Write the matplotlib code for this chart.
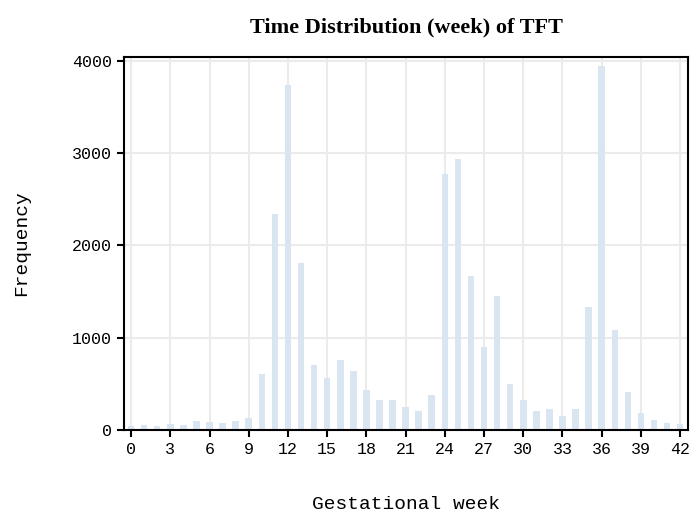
import matplotlib
matplotlib.use('agg')
import matplotlib.pyplot as plt
import numpy as np

weeks = list(range(43))
freq = [40, 50, 40, 60, 50, 100, 90, 80, 100, 130,
        610, 2340, 3740, 1810, 700, 560, 760, 640, 430, 320,
        330, 250, 210, 380, 2770, 2930, 1670, 900, 1450, 500,
        330, 210, 230, 150, 230, 1330, 3940, 1080, 410, 180,
        110, 80, 60]

fig = plt.figure(figsize=(7, 5.24), dpi=100)
ax = fig.add_axes([124 / 700, 1 - 430 / 524, 564 / 700, 373 / 524])
ax.grid(True, color='#ebebeb', linewidth=1.5, zorder=0)
ax.bar(weeks, freq, width=0.5, color='#dae5f2', zorder=2)
ax.set_xlim(-0.54, 42.6)
ax.set_ylim(0, 4040)
ax.set_xticks(range(0, 43, 3))
ax.set_yticks([0, 1000, 2000, 3000, 4000])
for s in ax.spines.values():
    s.set_linewidth(1.5)
ax.tick_params(width=1.5, length=5, labelsize=12)
for lab in ax.get_xticklabels() + ax.get_yticklabels():
    lab.set_family('Liberation Mono')
ax.set_xlabel('Gestational week', family='Liberation Mono', fontsize=14, labelpad=28)
ax.set_ylabel('Frequency', family='Liberation Mono', fontsize=14, labelpad=30)
ax.set_title('Time Distribution (week) of TFT', family='Liberation Serif',
             fontweight='bold', fontsize=16, pad=18)
fig.savefig('out.png', dpi=100)
